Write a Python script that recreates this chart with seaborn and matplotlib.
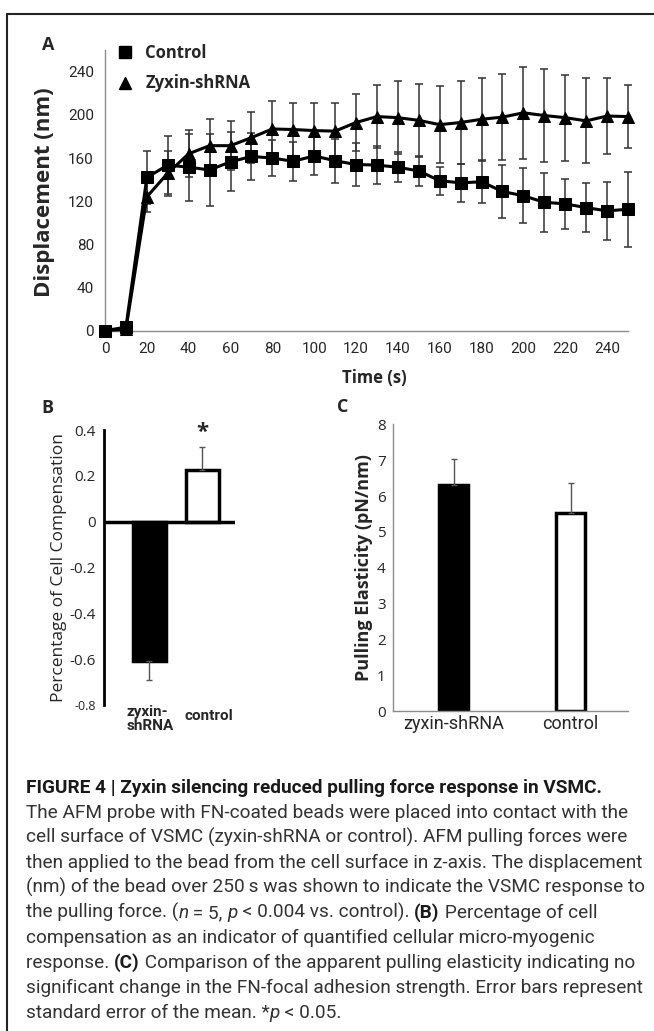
import matplotlib
matplotlib.use("Agg")
import matplotlib.pyplot as plt
import seaborn as sns
import pandas as pd
from matplotlib import font_manager
from matplotlib.lines import Line2D

# panel A: bead displacement over time
time_s = [0, 10, 20, 30, 40, 50, 60, 70, 80, 90, 100, 110, 120, 130, 140, 150,
          160, 170, 180, 190, 200, 210, 220, 230, 240, 250]
control_nm = [0, 3, 142, 153.5, 151.5, 149, 156.5, 161.5, 160, 157, 162, 157.5, 154,
              153.5, 151.5, 148, 139, 137, 138, 129, 125, 119, 117.5, 114, 111, 112.5]
control_se = [0, 0, 25, 27, 31, 33.5, 27.5, 21.5, 17, 18, 17.5, 20.5, 20, 17.5, 14,
              13.5, 13, 17.5, 20, 25, 25.5, 27.5, 23, 22.5, 27, 35]
zyxin_nm = [0, 1, 124, 146, 164, 171.5, 171.5, 179, 187, 186.5, 185.5, 185, 193, 198.5,
            197.5, 195, 191, 193, 196, 198, 202, 199.5, 197.5, 194.5, 199, 198.5]
zyxin_se = [0, 0, 14, 21, 22, 25, 23, 24, 26, 24.5, 25.5, 26.5, 26.5, 29.5, 34, 34, 36,
            38.5, 38.5, 40, 42.5, 43, 40, 39.5, 35, 29.5]

# panel B: percentage of cell compensation
groups_b = ["zyxin-\nshRNA", "control"]
compensation = [-0.61, 0.227]
compensation_se = [0.08, 0.10]

# panel C: pulling elasticity
groups_c = ["zyxin-shRNA", "control"]
elasticity = [6.3, 5.53]
elasticity_se = [0.74, 0.84]

W, H = 654, 1031
sns.set_style("white")

installed = {f.name for f in font_manager.fontManager.ttflist}
NARROW = "Liberation Sans Narrow" if "Liberation Sans Narrow" in installed else "Roboto"
SANS = "Open Sans"
plt.rcParams["font.family"] = [SANS, "DejaVu Sans"]
GRAY = "#8c8c8c"


def rect(l, t, r, b):
    return [l / W, 1 - b / H, (r - l) / W, (b - t) / H]


fig = plt.figure(figsize=(W / 100, H / 100), dpi=100)

# ---------------- panel A ----------------
axA = fig.add_axes(rect(105, 50.3, 628, 330.5))
dfA = pd.DataFrame({
    "time": time_s + time_s,
    "value": control_nm + zyxin_nm,
    "group": ["Control"] * len(time_s) + ["Zyxin-shRNA"] * len(time_s),
})
axA.errorbar(time_s, control_nm, yerr=control_se, fmt="none", ecolor="#333333",
             elinewidth=1.1, capsize=3, capthick=1.1, zorder=2, clip_on=False)
axA.errorbar(time_s, zyxin_nm, yerr=zyxin_se, fmt="none", ecolor="#333333",
             elinewidth=1.1, capsize=3, capthick=1.1, zorder=2, clip_on=False)
sns.lineplot(data=dfA, x="time", y="value", hue="group", style="group",
             markers={"Control": "s", "Zyxin-shRNA": "^"}, dashes=False,
             palette=["black", "black"], lw=2.2, markersize=8, markeredgecolor="black",
             legend=False, ax=axA, zorder=3, clip_on=False)
axA.set_xlim(0, 250)
axA.set_ylim(0, 260)
axA.set_xticks(range(0, 250, 20))
axA.set_xticks(range(10, 260, 20), minor=True)
axA.set_yticks(range(0, 250, 40))
axA.set_yticks(range(20, 270, 40), minor=True)
for s in ["top", "right"]:
    axA.spines[s].set_visible(False)
for s in ["left", "bottom"]:
    axA.spines[s].set_color(GRAY)
    axA.spines[s].set_linewidth(1)
axA.tick_params(which="both", direction="out", length=5, width=1, color=GRAY,
                labelsize=11, pad=3)
for lab in axA.get_xticklabels() + axA.get_yticklabels():
    lab.set_family([NARROW, "DejaVu Sans"])
axA.set_xlabel("")
axA.set_ylabel("")

handles = [Line2D([], [], marker="s", color="black", ls="none", markersize=8.5),
           Line2D([], [], marker="^", color="black", ls="none", markersize=9)]
axA.legend(handles, ["Control", "Zyxin-shRNA"], loc="upper left",
           bbox_to_anchor=(117 / W, 1 - 44 / H), bbox_transform=fig.transFigure,
           frameon=False, prop={"family": SANS, "weight": "bold", "size": 12},
           handlelength=1.0, handletextpad=0.7, labelspacing=0.75, borderpad=0,
           borderaxespad=0)

fig.text(45 / W, 1 - 192 / H, "Displacement (nm)", rotation=90, ha="center",
         va="center", fontsize=16, fontweight="bold")
fig.text(374 / W, 1 - 378 / H, "Time (s)", ha="center", va="center",
         fontsize=12, fontweight="bold")
fig.text(48 / W, 1 - 45 / H, "A", ha="center", va="center", fontsize=13,
         fontweight="bold")

# ---------------- panel B ----------------
axB = fig.add_axes(rect(104, 430, 235, 705))
sns.barplot(x=groups_b, y=compensation, hue=groups_b, palette=["black", "white"],
            edgecolor="black", linewidth=2.5, width=0.62, legend=False, ax=axB)
axB.errorbar([0, 1], compensation,
             yerr=[[compensation_se[0], 0], [0, compensation_se[1]]],
             fmt="none", ecolor="#555555", elinewidth=1, capsize=2, capthick=1,
             zorder=1)
axB.axhline(0, color="black", lw=2.5, zorder=4)
axB.set_xlim(-0.853, 1.62)
axB.set_ylim(-0.8, 0.4)
yt = [-0.8, -0.6, -0.4, -0.2, 0, 0.2, 0.4]
axB.set_yticks(yt)
axB.set_yticklabels(["-0.8", "-0.6", "-0.4", "-0.2", "0", "0.2", "0.4"])
for s in ["top", "right", "bottom"]:
    axB.spines[s].set_visible(False)
axB.spines["left"].set_color("black")
axB.spines["left"].set_linewidth(2)
axB.tick_params(axis="y", direction="out", length=3, width=1, color="black",
                labelsize=11, pad=3)
axB.get_yticklabels()[0].set_fontsize(9)
# category labels sit slightly off-centre in the original, so place them by hand
axB.set_xticks([])
axB.set_xlabel("")
axB.text(-0.42, -0.861, groups_b[0], ha="left", va="center", fontsize=11,
         fontweight="bold", family=[NARROW, "DejaVu Sans"], linespacing=1.0,
         clip_on=False)
axB.text(0.675, -0.848, groups_b[1], ha="left", va="center", fontsize=11,
         fontweight="bold", family=[NARROW, "DejaVu Sans"], clip_on=False)
axB.set_ylabel("Percentage of Cell Compensation", fontsize=12.5, labelpad=2)
axB.text(1, 0.345, "*", ha="center", va="bottom", fontsize=16, fontweight="bold")
fig.text(47 / W, 1 - 408 / H, "B", ha="center", va="center", fontsize=13,
         fontweight="bold")

# ---------------- panel C ----------------
axC = fig.add_axes(rect(392.7, 424.3, 628, 711.3))
sns.barplot(x=groups_c, y=elasticity, hue=groups_c, palette=["black", "white"],
            edgecolor="black", linewidth=2.5, width=0.25, legend=False, ax=axC)
axC.errorbar([0, 1], elasticity, yerr=[[0, 0], elasticity_se], fmt="none",
             ecolor="#555555", elinewidth=1, capsize=2, capthick=1, zorder=1)
axC.set_xlim(-0.52, 1.49)
axC.set_ylim(0, 8)
axC.set_yticks(range(0, 9))
for s in ["top", "right"]:
    axC.spines[s].set_visible(False)
for s in ["left", "bottom"]:
    axC.spines[s].set_color(GRAY)
    axC.spines[s].set_linewidth(1)
axC.tick_params(axis="y", direction="out", length=2, width=1, color=GRAY,
                labelsize=11, pad=3)
axC.tick_params(axis="x", length=0, pad=3)
for lab in axC.get_xticklabels():
    lab.set_family([NARROW, "DejaVu Sans"])
    lab.set_fontsize(13)
axC.set_ylabel("Pulling Elasticity (pN/nm)", fontsize=13, fontweight="bold",
               labelpad=3)
fig.text(343 / W, 1 - 407 / H, "C", ha="center", va="center", fontsize=13,
         fontweight="bold")

# ---------------- caption ----------------
cap_fs = 13.7
cap_color = "#333333"
caption = [
    [("FIGURE 4 | Zyxin silencing reduced pulling force response in VSMC.", "bold", "normal")],
    [("The AFM probe with FN-coated beads were placed into contact with the", "normal", "normal")],
    [("cell surface of VSMC (zyxin-shRNA or control). AFM pulling forces were", "normal", "normal")],
    [("then applied to the bead from the cell surface in z-axis. The displacement", "normal", "normal")],
    [("(nm) of the bead over 250\u2009s was shown to indicate the VSMC response to", "normal", "normal")],
    [("the pulling force. (", "normal", "normal"), ("n", "normal", "italic"),
     (" = 5, ", "normal", "normal"), ("p", "normal", "italic"),
     (" < 0.004 vs. control). ", "normal", "normal"), ("(B)", "bold", "normal"),
     (" Percentage of cell", "normal", "normal")],
    [("compensation as an indicator of quantified cellular micro-myogenic", "normal", "normal")],
    [("response. ", "normal", "normal"), ("(C)", "bold", "normal"),
     (" Comparison of the apparent pulling elasticity indicating no", "normal", "normal")],
    [("significant change in the FN-focal adhesion strength. Error bars represent", "normal", "normal")],
    [("standard error of the mean. *", "normal", "normal"), ("p", "normal", "italic"),
     (" < 0.05.", "normal", "normal")],
]
y0 = 793
for i, pieces in enumerate(caption):
    yb = 1 - (y0 + 25 * i) / H
    last = None
    for txt, wt, st in pieces:
        col = "#1a1a1a" if (i == 0 or wt == "bold") else cap_color
        kw = dict(fontsize=cap_fs, fontweight=wt, fontstyle=st, color=col,
                  family=[NARROW, "DejaVu Sans"], ha="left")
        if last is None:
            last = fig.text(26 / W, yb, txt, va="baseline", **kw)
        else:
            last = plt.annotate(txt, xy=(1, 0), xycoords=last, xytext=(0, 0),
                                textcoords="offset points", annotation_clip=False,
                                va="bottom", **kw)

# frame lines
fig.add_artist(Line2D([7 / W, 7 / W], [0, 1 - 14 / H], color="#222222", lw=1.5,
                      transform=fig.transFigure))
fig.add_artist(Line2D([7 / W, 1], [1 - 14 / H, 1 - 14 / H], color="#222222", lw=1.5,
                      transform=fig.transFigure))

fig.savefig("out.png", dpi=100)
